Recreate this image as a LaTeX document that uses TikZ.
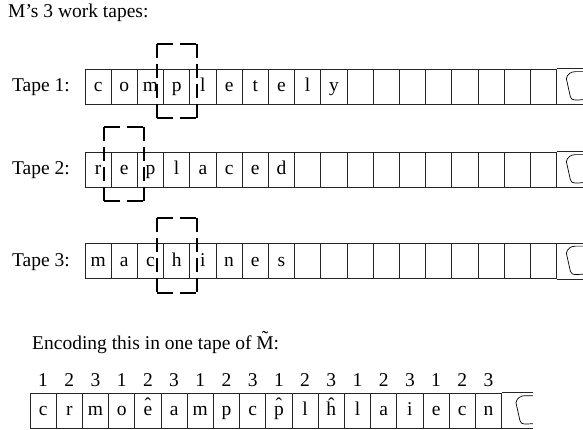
\documentclass[tikz,border=0pt]{standalone}
\usepackage{fontspec}
\setmainfont{Liberation Serif}
\usetikzlibrary{calc}
\newcommand\hatted[1]{\ooalign{#1\cr\hidewidth\raisebox{0.2em}{\char"02C6}\hidewidth\cr}}
\newcommand\tilded[1]{\ooalign{#1\cr\hidewidth\raisebox{0.28em}{\char"02DC}\hidewidth\cr}}
\tikzset{
  every picture/.style={font=\fontsize{19.5}{23}\selectfont},
  cell/.style={draw=black!85, line width=0.7pt, minimum width=26.2pt, minimum height=35pt,
               inner sep=0pt, text height=14pt, text depth=4pt},
  tapelabel/.style={anchor=east, inner sep=0pt, text height=14pt, text depth=4pt},
  tapeline/.style={draw=black!85, line width=0.7pt},
  num/.style={inner sep=0pt},
  headh/.style={line width=1.8pt, dash pattern=on 16pt off 7pt},
  headv/.style={line width=1.8pt, dash pattern=on 14pt off 6pt},
  tear/.pic={\draw[line width=0.7pt] (0,3) -- (-8,3) to[out=180,in=80] (-17,10) -- (-13,28) to[out=-80,in=180] (0,31);},
}

\begin{document}
\begin{tikzpicture}[x=1pt, y=-1pt]
  \useasboundingbox (0,0) rectangle (583,430);
  \node[anchor=west, inner sep=0pt] (title) at (8,13) {M’s 3 work tapes:};
  % the three work tapes
  \foreach \row/\y/\word in {1/86.5/{c,o,m,p,l,e,t,e,l,y,{},{},{},{},{},{},{},{}},
                             2/169.5/{r,e,p,l,a,c,e,d,{},{},{},{},{},{},{},{},{},{}},
                             3/261/{m,a,c,h,i,n,e,s,{},{},{},{},{},{},{},{},{},{}}} {
    \node[tapelabel] (lab\row) at (70,\y) {Tape \row:};
    \foreach \ch [count=\i] in \word
      \node[cell] (t\row-\i) at ({85+26.2*(\i-0.5)},\y) {\ch};
    \draw[tapeline] (t\row-18.north east) -- ++(26.4,0) coordinate (e\row)
                    (t\row-18.south east) -- ++(26.4,0);
    \pic at (e\row) {tear};
  }
  % heads
  \foreach \row/\c in {1/4, 2/2, 3/4} {
    \coordinate (hl\row) at ([shift={(-6.5pt,25pt)}]t\row-\c.north west);
    \coordinate (hr\row) at ([shift={(6.5pt,-14pt)}]t\row-\c.south east);
    \draw[headh] (hl\row) -- (hl\row -| hr\row);
    \draw[headh] (hl\row |- hr\row) -- (hr\row);
    \draw[headv] (hl\row) -- (hl\row |- hr\row);
    \draw[headv] (hl\row -| hr\row) -- (hr\row);
  }
  % one tape encoding
  \node[anchor=west, inner sep=0pt] (enc) at (32,345) {Encoding this in one tape of \tilded{M}:};
  \foreach \ch [count=\i] in {c,r,m,o,\hatted{e},a,m,p,c,\hatted{p},l,\hatted{h},l,a,i,e,c,n} {
    \node[cell] (b\i) at ({30+26.2*(\i-0.5)},410.5) {\ch};
    \pgfmathtruncatemacro\k{mod(\i-1,3)+1}
    \node[num] (n\i) at ([yshift=13pt]b\i.north) {\k};
  }
  \draw[tapeline] (b18.north east) -- ++(31,0) coordinate (eb)
                  (b18.south east) -- ++(31,0);
  \pic at (eb) {tear};
\end{tikzpicture}
\end{document}
